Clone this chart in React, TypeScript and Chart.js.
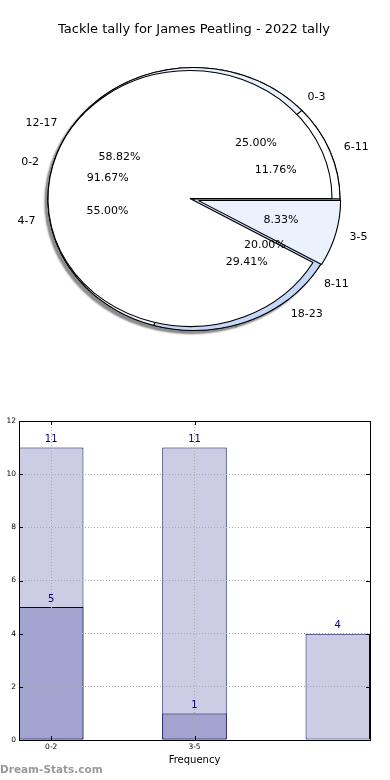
import React, { useEffect, useRef } from 'react';
import { Chart, registerables } from 'chart.js';

Chart.register(...registerables);

const FONT = '"DejaVu Sans", sans-serif';
const TITLE = 'Tackle tally for James Peatling - 2022 tally';

// ---- pie data (three overlapping pies) ----
const pieALabels = ['0-2', '3-5'];
const pieAValues = [11, 1];
const pieBLabels = ['0-3', '4-7', '8-11'];
const pieBValues = [5, 11, 4];
const pieCLabels = ['6-11', '12-17', '18-23'];
const pieCValues = [2, 10, 5];

// ---- bar data ----
const barPositions = [0, 1, 2];
const barTickLabels = ['0-2', '3-5'];
const barLightValues = [11, 11, 4];
const barDarkValues: (number | null)[] = [5, 1, null];
const Y_MIN = 0;
const Y_MAX = 12;
const Y_STEP = 2;
const BAR_WIDTH = 0.45;
const Y_TITLE = 'Number of Games';
const X_TITLE = 'Frequency';
const WATERMARK = 'Dream-Stats.com';

// drawing order: dataset 0 on top
const PIE_LABELS = [pieALabels, pieCLabels, pieBLabels];
const PIE_VALUES = [pieAValues, pieCValues, pieBValues];
const PIE_COLORS = [
  ['#ffffff', '#ebf1fd'],
  ['#ffffff', '#ebf1fd', '#c6d8fa'],
  ['#ffffff', '#ebf1fd', '#c6d8fa'],
];
const PIE_STYLE = [
  { scale: 0.973, dx: -4, dy: 0.5, explode: [0, 0.0625], shadow: false },
  { scale: 1, dx: 0, dy: 1, explode: [0, 0, 0], shadow: false },
  { scale: 1, dx: 0, dy: 1, explode: [0, 0, 0], shadow: true },
];
const SQUASH_X = 1.11;

function centerOf(chart: any) {
  const { left, right, top, bottom } = chart.chartArea;
  return [(left + right) / 2, (top + bottom) / 2];
}

function toScreen(chart: any, i: number, px: number, py: number) {
  const [cx, cy] = centerOf(chart);
  const g = PIE_STYLE[i];
  return [cx + g.dx + SQUASH_X * (px - cx), cy + g.dy - (py - cy)];
}

const piePlugin = {
  id: 'overlapPies',
  afterDatasetsUpdate(chart: any) {
    const R = chart.getDatasetMeta(0).controller.outerRadius;
    chart.data.datasets.forEach((_ds: any, i: number) => {
      const meta = chart.getDatasetMeta(i);
      const g = PIE_STYLE[i];
      meta.data.forEach((arc: any, j: number) => {
        const r = R * g.scale;
        arc.innerRadius = 0;
        arc.outerRadius = r;
        const mid = (arc.startAngle + arc.endAngle) / 2;
        const e = (g.explode[j] || 0) * r;
        arc.x = arc.x + e * Math.cos(mid);
        arc.y = arc.y + e * Math.sin(mid);
      });
    });
  },
  beforeDatasetDraw(chart: any, args: any) {
    const ctx = chart.ctx;
    const g = PIE_STYLE[args.index];
    const [cx, cy] = centerOf(chart);
    ctx.save();
    if (g.shadow) {
      ctx.shadowColor = 'rgba(0,0,0,0.45)';
      ctx.shadowOffsetX = -3;
      ctx.shadowOffsetY = 3;
      ctx.shadowBlur = 2;
    }
    ctx.translate(cx + g.dx, cy + g.dy);
    ctx.scale(SQUASH_X, -1);
    ctx.translate(-cx, -cy);
  },
  afterDatasetDraw(chart: any) {
    chart.ctx.restore();
  },
  afterDatasetsDraw(chart: any) {
    const ctx = chart.ctx;
    ctx.save();
    ctx.font = `11px ${FONT}`;
    ctx.fillStyle = '#000';
    ctx.textBaseline = 'middle';
    chart.data.datasets.forEach((ds: any, i: number) => {
      const meta = chart.getDatasetMeta(i);
      const total = ds.data.reduce((a: number, b: number) => a + b, 0);
      meta.data.forEach((arc: any, j: number) => {
        const mid = (arc.startAngle + arc.endAngle) / 2;
        const r = arc.outerRadius;
        const [lx, ly] = toScreen(chart, i, arc.x + 1.1 * r * Math.cos(mid), arc.y + 1.1 * r * Math.sin(mid));
        ctx.textAlign = Math.cos(mid) > 0 ? 'left' : 'right';
        ctx.fillText(PIE_LABELS[i][j], lx, ly);
        const [px, py] = toScreen(chart, i, arc.x + 0.6 * r * Math.cos(mid), arc.y + 0.6 * r * Math.sin(mid));
        ctx.textAlign = 'center';
        ctx.fillText(((ds.data[j] / total) * 100).toFixed(2) + '%', px, py);
      });
    });
    ctx.restore();
  },
};

const barDecor = {
  id: 'barDecor',
  afterDraw(chart: any) {
    const ctx = chart.ctx;
    const { left, right, top, bottom } = chart.chartArea;
    const xs = chart.scales.x;
    const ys = chart.scales.y;
    ctx.save();
    // value labels
    ctx.font = `10px ${FONT}`;
    ctx.fillStyle = '#000080';
    ctx.textAlign = 'center';
    ctx.textBaseline = 'middle';
    chart.data.datasets.forEach((ds: any, i: number) => {
      const meta = chart.getDatasetMeta(i);
      meta.data.forEach((el: any, j: number) => {
        const v = ds.data[j].y;
        if (v === null || v === undefined) return;
        ctx.fillText(String(v), el.x, el.y - 8);
      });
    });
    // inward ticks
    ctx.strokeStyle = '#000';
    ctx.lineWidth = 1;
    ctx.beginPath();
    ys.ticks.forEach((t: any) => {
      const y = Math.round(ys.getPixelForValue(t.value)) + 0.5;
      ctx.moveTo(left, y); ctx.lineTo(left + 4, y);
      ctx.moveTo(right, y); ctx.lineTo(right - 4, y);
    });
    xs.ticks.forEach((t: any) => {
      if (barTickLabels[t.value] === undefined) return;
      const x = Math.round(xs.getPixelForValue(t.value)) + 0.5;
      ctx.moveTo(x, bottom); ctx.lineTo(x, bottom - 4);
      ctx.moveTo(x, top); ctx.lineTo(x, top + 4);
    });
    ctx.stroke();
    // frame
    ctx.strokeRect(Math.round(left) + 0.5, Math.round(top) + 0.5, Math.round(right - left), Math.round(bottom - top));
    ctx.restore();
  },
};

export default function App() {
  const pieRef = useRef<HTMLCanvasElement>(null);
  const barRef = useRef<HTMLCanvasElement>(null);

  useEffect(() => {
    const pie = new Chart(pieRef.current as HTMLCanvasElement, {
      type: 'pie',
      data: {
        datasets: PIE_VALUES.map((vals, i) => ({
          data: vals,
          backgroundColor: PIE_COLORS[i],
          borderColor: '#000',
          borderWidth: 1,
        })),
      },
      options: {
        responsive: false,
        animation: false,
        events: [],
        rotation: 90,
        layout: { padding: { left: 0, right: 2, top: 0, bottom: 70 } },
        plugins: {
          legend: { display: false },
          tooltip: { enabled: false },
          title: {
            display: true,
            text: TITLE,
            color: '#000',
            font: { family: FONT, size: 13, weight: 'normal' },
            padding: { top: 22, bottom: 28.4 },
          },
        },
      },
      plugins: [piePlugin],
    } as any);

    const gridColor = '#aaaaaa';
    const bar = new Chart(barRef.current as HTMLCanvasElement, {
      type: 'bar',
      data: {
        datasets: [
          {
            data: barPositions.map((x, i) => ({ x, y: barDarkValues[i] })),
            backgroundColor: '#a3a3d0',
            borderColor: '#000050',
            borderWidth: 1,
            borderSkipped: false,
          },
          {
            data: barPositions.map((x, i) => ({ x, y: barLightValues[i] })),
            backgroundColor: '#cccce4',
            borderColor: '#000050',
            borderWidth: 1,
            borderSkipped: false,
          },
        ],
      },
      options: {
        responsive: false,
        animation: false,
        events: [],
        datasets: { bar: { grouped: false, barPercentage: BAR_WIDTH, categoryPercentage: 1 } },
        layout: { padding: { left: 0, right: 20, top: 21, bottom: 0 } },
        plugins: { legend: { display: false }, tooltip: { enabled: false } },
        scales: {
          x: {
            type: 'linear',
            offset: false,
            min: -BAR_WIDTH / 2,
            max: barPositions[barPositions.length - 1] + BAR_WIDTH / 2,
            afterFit: (s: any) => { s.height = 40; },
            ticks: {
              stepSize: 1,
              includeBounds: false,
              padding: 3,
              color: '#000',
              font: { family: FONT, size: 7.5 },
              callback: (v: any) => barTickLabels[v] ?? '',
            },
            grid: {
              z: 1,
              offset: false,
              drawTicks: false,
              color: (c: any) => (c.tick && barTickLabels[c.tick.value] !== undefined ? gridColor : 'rgba(0,0,0,0)'),
            },
            border: { display: false, dash: [1, 2] },
            title: {
              display: true,
              text: X_TITLE,
              color: '#000',
              font: { family: FONT, size: 10 },
              padding: { top: 0, bottom: 14 },
            },
          },
          y: {
            min: Y_MIN,
            max: Y_MAX,
            afterFit: (s: any) => { s.width = 19; },
            ticks: {
              stepSize: Y_STEP,
              padding: 3,
              color: '#000',
              font: { family: FONT, size: 7.5 },
            },
            grid: { z: 1, drawTicks: false, color: gridColor },
            border: { display: false, dash: [1, 2] },
          },
        },
      },
      plugins: [barDecor],
    } as any);

    return () => {
      pie.destroy();
      bar.destroy();
    };
  }, []);

  return (
    <div style={{ position: 'fixed', left: 0, top: 0, width: 390, height: 780, background: '#fff', overflow: 'hidden' }}>
      <canvas ref={pieRef} width={390} height={400} style={{ position: 'absolute', left: 0, top: 0 }} />
      <canvas ref={barRef} width={390} height={380} style={{ position: 'absolute', left: 0, top: 400 }} />
      <div style={{ position: 'absolute', left: -3.5, top: 580, width: 0, height: 0 }}>
        <div
          style={{
            position: 'absolute', left: 0, top: 0, transform: 'translate(-50%, -50%) rotate(-90deg)',
            whiteSpace: 'nowrap', font: `9px ${FONT}`, color: '#000', lineHeight: '10px',
          }}
        >
          {Y_TITLE}
        </div>
      </div>
      <div
        style={{
          position: 'absolute', left: 0, top: 763, whiteSpace: 'nowrap',
          font: `bold 10.5px ${FONT}`, color: '#999', lineHeight: '13px',
        }}
      >
        {WATERMARK}
      </div>
    </div>
  );
}
